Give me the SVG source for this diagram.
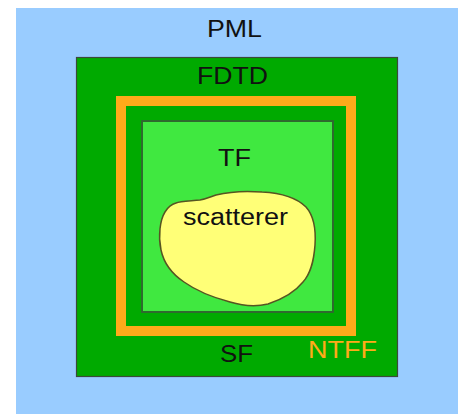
<svg xmlns="http://www.w3.org/2000/svg" width="461" height="414" viewBox="0 0 461 414">
<style>
text{font-family:"Liberation Sans",Arial,sans-serif;font-size:23px;text-anchor:start}
.dark{fill:#111}
</style>
<rect x="0" y="0" width="461" height="414" fill="#ffffff"/>
<g id="pml">
<rect x="16" y="8" width="442" height="406" fill="#99ccff"/>
<text class="dark" x="207" y="37" textLength="55" lengthAdjust="spacingAndGlyphs">PML</text>
</g>
<g id="fdtd">
<rect x="76.5" y="57.5" width="321" height="319" fill="#00aa00" stroke="#3a4a3a" stroke-width="1.2"/>
<text class="dark" x="197" y="84" textLength="71" lengthAdjust="spacingAndGlyphs">FDTD</text>
</g>
<g id="ntff">
<rect x="121" y="101" width="230" height="230" fill="none" stroke="#ffaa1a" stroke-width="10"/>
<text x="308" y="358" fill="#ffaa1a" textLength="69" lengthAdjust="spacingAndGlyphs">NTFF</text>
</g>
<g id="tf">
<rect x="142" y="121" width="191" height="191" fill="#40e840" stroke="#2e6a2e" stroke-width="2"/>
<text class="dark" x="218" y="166" textLength="33" lengthAdjust="spacingAndGlyphs">TF</text>
</g>
<g id="sf">
<text class="dark" x="220" y="362" textLength="33" lengthAdjust="spacingAndGlyphs">SF</text>
</g>
<g id="scatterer">
<path d="M176,203 C180,201 190,201 200,200 C206,199 210,197 216,195 C232,191 250,191 262,192 C280,193 296,197 306,207 C314,216 316,230 315,245 C314,258 312,272 303,282 C295,292 283,299 268,304 C255,307 240,305 230,302 C215,298 198,292 184,282 C172,274 164,264 161,250 C158,236 160,220 165,212 C168,207 172,204 176,203 Z" fill="#ffff77" stroke="#555522" stroke-width="1.5"/>
<text class="dark" x="183" y="225" textLength="105" lengthAdjust="spacingAndGlyphs">scatterer</text>
</g>
</svg>
